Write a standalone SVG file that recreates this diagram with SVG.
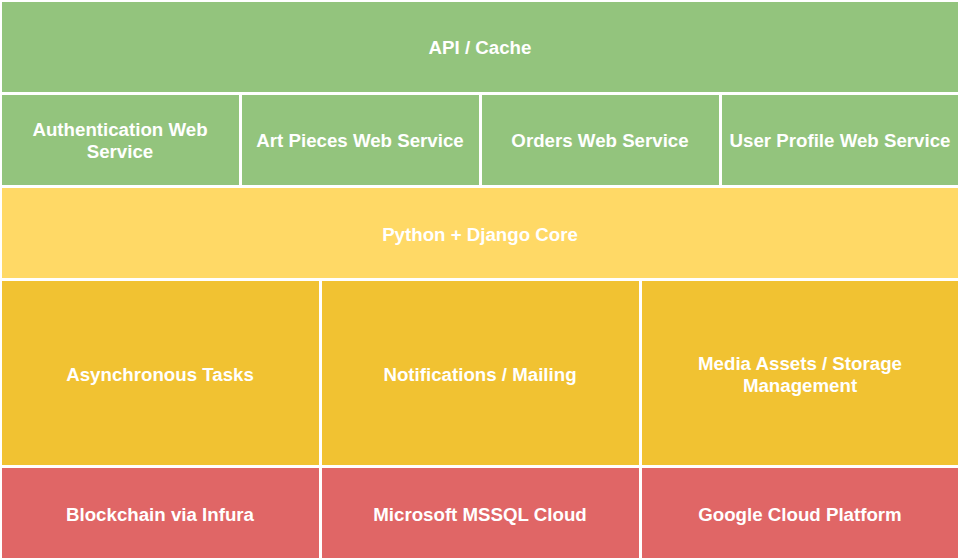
<svg xmlns="http://www.w3.org/2000/svg" width="960" height="560" viewBox="0 0 960 560">
<style>
rect{stroke:#ffffff;stroke-width:2}
.g{fill:#93c47d}.y{fill:#ffd966}.o{fill:#f1c232}.r{fill:#e06666}
text{font-family:"Liberation Sans",Arial,sans-serif;font-weight:bold;font-size:18.7px;fill:#ffffff;text-anchor:middle}
</style>
<rect x="0" y="0" width="960" height="560" fill="#ffffff" style="stroke:none"/>
<g id="api-cache"><rect class="g" x="1" y="1" width="958" height="92"/><text x="480" y="54">API / Cache</text></g>
<g id="auth"><rect class="g" x="1" y="94" width="239" height="92"/><text x="120" y="136">Authentication Web</text><text x="120" y="158">Service</text></g>
<g id="art"><rect class="g" x="241" y="94" width="239" height="92"/><text x="360" y="147">Art Pieces Web Service</text></g>
<g id="orders"><rect class="g" x="481" y="94" width="239" height="92"/><text x="600" y="147">Orders Web Service</text></g>
<g id="profile"><rect class="g" x="721" y="94" width="238" height="92"/><text x="840" y="147">User Profile Web Service</text></g>
<g id="core"><rect class="y" x="1" y="187" width="958" height="92"/><text x="480" y="241">Python + Django Core</text></g>
<g id="async"><rect class="o" x="1" y="280" width="319" height="186"/><text x="160" y="381">Asynchronous Tasks</text></g>
<g id="notify"><rect class="o" x="321" y="280" width="319" height="186"/><text x="480" y="381">Notifications / Mailing</text></g>
<g id="media"><rect class="o" x="641" y="280" width="318" height="186"/><text x="800" y="370">Media Assets / Storage</text><text x="800" y="392">Management</text></g>
<g id="blockchain"><rect class="r" x="1" y="467" width="319" height="92"/><text x="160" y="521">Blockchain via Infura</text></g>
<g id="mssql"><rect class="r" x="321" y="467" width="319" height="92"/><text x="480" y="521">Microsoft MSSQL Cloud</text></g>
<g id="gcp"><rect class="r" x="641" y="467" width="318" height="92"/><text x="800" y="521">Google Cloud Platform</text></g>
<g id="connectors"></g>
</svg>
